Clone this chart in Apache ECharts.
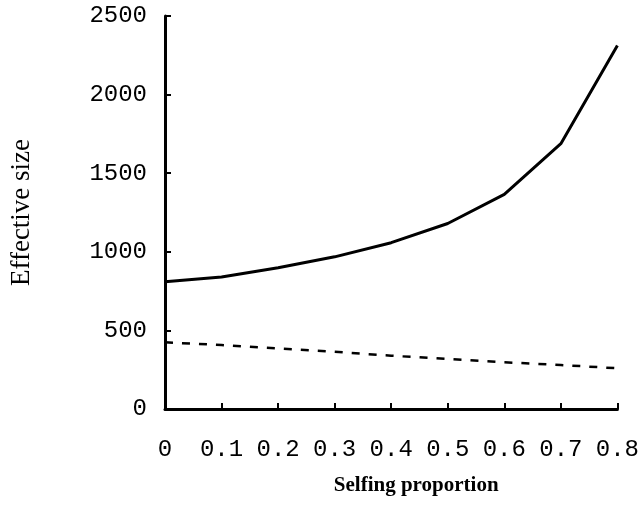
<!DOCTYPE html>
<html>
<head>
    <meta charset="utf-8">
    <title>Effective size vs selfing proportion</title>
    <script src="https://cdn.jsdelivr.net/npm/echarts@6/dist/echarts.min.js"></script>
    <style>
        html, body { margin: 0; padding: 0; background: #fff; }
    </style>
</head>
<body>
    <div id="main" style="width: 642px;height:516px;"></div>
    <script type="text/javascript">
        // data
        var selfing = ['0', '0.1', '0.2', '0.3', '0.4', '0.5', '0.6', '0.7', '0.8'];
        var upperLine = [810, 840, 898, 968, 1058, 1180, 1365, 1688, 2312];
        var lowerLine = [424, 407, 386, 364, 339, 318, 297, 280, 259];

        var mono = '"Liberation Mono", "DejaVu Sans Mono", monospace';
        var serif = '"Liberation Serif", "DejaVu Serif", serif';

        var myChart = echarts.init(document.getElementById('main'));

        var option = {
            backgroundColor: '#fff',
            animation: false,
            grid: {
                left: 163,
                right: 23,
                top: 16,
                bottom: 107
            },
            xAxis: {
                type: 'category',
                boundaryGap: false,
                data: selfing,
                name: 'Selfing proportion',
                nameLocation: 'middle',
                nameGap: 66,
                nameTextStyle: {
                    fontFamily: serif,
                    fontWeight: 'bold',
                    fontSize: 21,
                    color: '#000',
                    verticalAlign: 'top',
                    padding: [0, 0, 0, 50]
                },
                axisLine: { lineStyle: { color: '#000', width: 3 } },
                axisTick: { inside: true, length: 6, lineStyle: { color: '#000', width: 2 } },
                axisLabel: {
                    margin: 29,
                    color: '#000',
                    fontFamily: mono,
                    fontSize: 24
                },
                splitLine: { show: false }
            },
            yAxis: {
                type: 'value',
                min: 0,
                max: 2500,
                interval: 500,
                name: 'Effective size',
                nameLocation: 'middle',
                nameGap: 130,
                nameTextStyle: {
                    fontFamily: serif,
                    fontSize: 27,
                    color: '#000'
                },
                axisLine: { show: true, lineStyle: { color: '#000', width: 3 } },
                axisTick: { show: true, inside: true, length: 6, lineStyle: { color: '#000', width: 2 } },
                axisLabel: {
                    margin: 18,
                    color: '#000',
                    fontFamily: mono,
                    fontSize: 24,
                    formatter: function (v) { return String(v); }
                },
                splitLine: { show: false }
            },
            series: [
                {
                    name: 'upper',
                    type: 'line',
                    data: upperLine,
                    symbol: 'none',
                    lineStyle: { color: '#000', width: 3 }
                },
                {
                    name: 'lower',
                    type: 'line',
                    data: lowerLine,
                    symbol: 'none',
                    lineStyle: { color: '#000', width: 2.5, type: [8, 9] }
                }
            ]
        };

        myChart.setOption(option);
    </script>
</body>
</html>
